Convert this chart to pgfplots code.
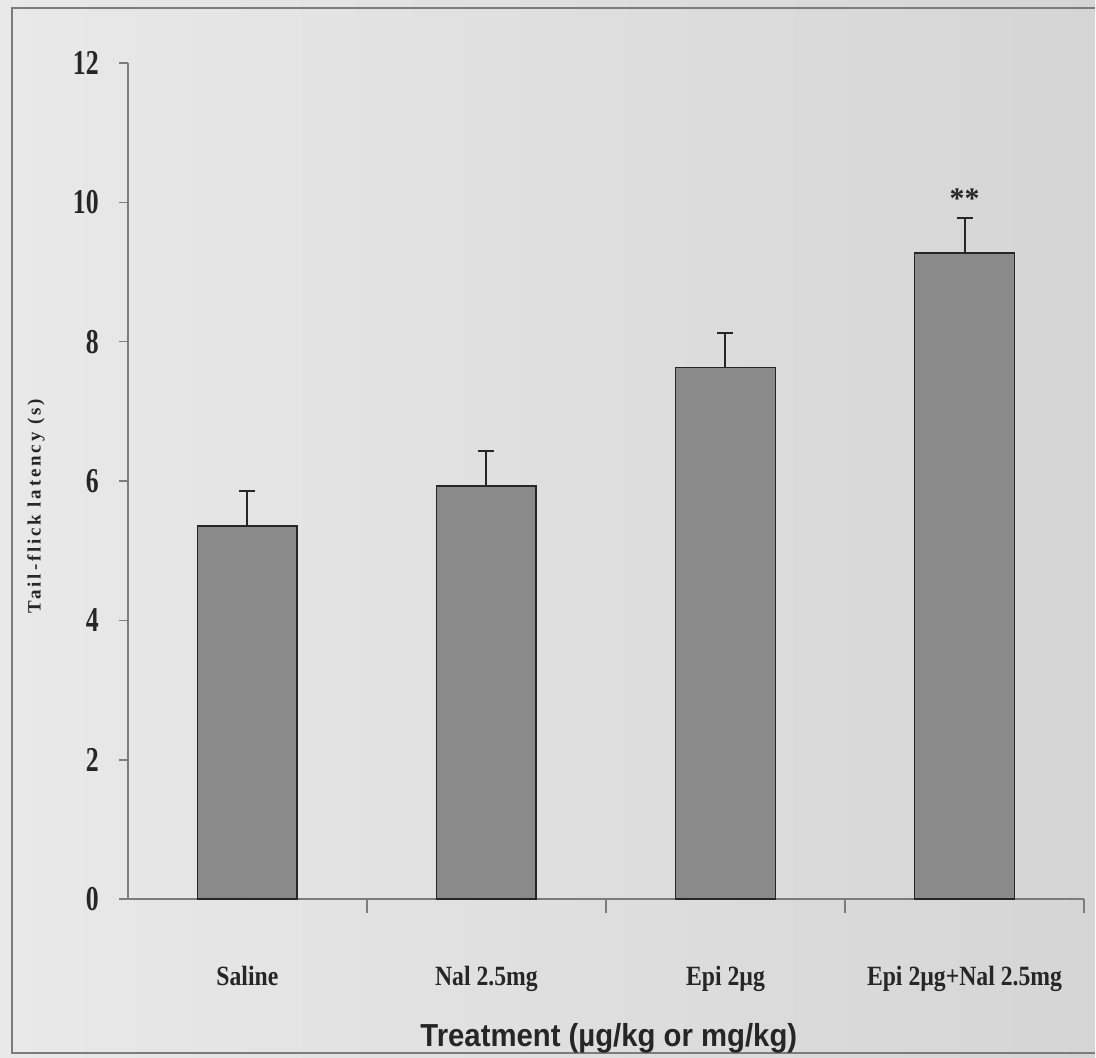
\documentclass[border=0pt]{standalone}
\usepackage{pgfplots}
\pgfplotsset{compat=1.18}
\usepackage{fontspec}
\setmainfont{Liberation Serif}
\newfontfamily\sansf{Liberation Sans}
\newfontfamily\spacedserif[LetterSpace=15]{Liberation Serif}

\definecolor{bgleft}{HTML}{E9E9E9}
\definecolor{bgright}{HTML}{D5D5D5}
\definecolor{barfill}{HTML}{8A8A8A}
\definecolor{axisgray}{HTML}{7C7C7C}
\definecolor{inkc}{HTML}{262626}

\newcommand\nar[1]{\scalebox{0.74}[1]{#1}}
\newcommand\cat[1]{\scalebox{0.85}[1]{#1}}

\pgfplotstableread{
x  y     err
1  5.36  0.50
2  5.93  0.50
3  7.63  0.49
4  9.27  0.50
}\latency

\begin{document}
\begin{tikzpicture}[x=1bp,y=1bp]
\shade[left color=bgleft, right color=bgright] (0,0) rectangle (1096,1058);
\draw[axisgray, line width=2bp] (1096,1050) -- (12,1050) -- (12,4) -- (1096,4);
\begin{axis}[
  at={(128bp,158bp)}, anchor=south west,
  scale only axis, width=957bp, height=837bp,
  xmin=0.5, xmax=4.5, ymin=0, ymax=12,
  axis lines=left,
  axis line style={-, draw=axisgray, line width=1.6bp},
  ytick={0,2,...,12},
  yticklabel={\nar{\pgfmathprintnumber[assume math mode=true]{\tick}}},
  yticklabel style={font=\fontsize{35}{35}\selectfont\bfseries, text=inkc, inner sep=0pt, anchor=east, xshift=-20bp},
  ytick style={draw=axisgray, line width=1.6bp},
  tick align=outside, major tick length=9bp,
  xtick={1,2,3,4},
  xticklabels={\cat{Saline}, \cat{Nal 2.5mg}, \cat{Epi 2µg}, \cat{Epi 2µg+Nal 2.5mg}},
  xticklabel style={font=\fontsize{28}{28}\selectfont\bfseries, text=inkc, inner sep=0pt, anchor=north, yshift=-58bp},
  xtick style={draw=none},
  extra x ticks={1.5,2.5,3.5,4.5},
  extra x tick labels={},
  extra x tick style={xtick style={draw=axisgray, line width=1.6bp}, major tick length=14bp},
  xlabel={\scalebox{0.92}[1]{Treatment (µg/kg or mg/kg)}},
  xlabel style={font=\sansf\fontsize{32}{32}\selectfont\bfseries, text=inkc, at={(axis description cs:0.503,0)}, anchor=north, inner sep=0pt, yshift=-124bp},
  ylabel={Tail-flick latency (s)},
  ylabel style={font=\spacedserif\fontsize{19}{19}\selectfont\bfseries, text=inkc, at={(axis description cs:-0.096,0.47)}, anchor=center, inner sep=0pt},
  clip=false,
]
\addplot[ybar, bar width=100bp, bar shift=0pt, fill=barfill, draw=inkc, line width=1.8bp,
  error bars/.cd, y dir=plus, y explicit,
  error bar style={line width=2bp, draw=inkc},
  error mark options={rotate=90, mark size=8bp, line width=2bp, draw=inkc}]
  table[x=x, y=y, y error=err] {\latency};
\node[anchor=north, inner sep=0pt, font=\fontsize{30}{30}\selectfont\bfseries, text=inkc] at (axis cs:4,10.2) {**};
\end{axis}
\end{tikzpicture}
\end{document}
